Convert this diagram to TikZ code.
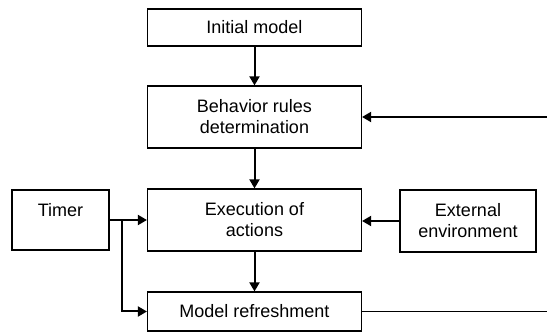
\documentclass[tikz,border=0pt]{standalone}
\usepackage{fontspec}
\setmainfont{Liberation Sans}
\usepackage{tikz}
\usetikzlibrary{arrows.meta, positioning}
\tikzset{
    box/.style={rectangle, draw=black, line width=1.2pt, fill=white, align=center, minimum width=214pt, inner sep=0pt, font=\fontsize{18}{21}\selectfont},
    smallbox/.style={box, minimum width=97pt, minimum height=60pt},
    arrow/.style={-{Triangle[length=9pt, width=10pt]}, line width=2pt},
    line/.style={line width=1.2pt}
}

\begin{document}
\begin{tikzpicture}[x=1pt, y=1pt]
        \useasboundingbox (0,0) rectangle (547,332);

        % Main column
        \node[box, minimum height=37pt] (init) at (254.5,304.5) {Initial model};
        \node[box, minimum height=62pt] (rules) at (254.5,215) {Behavior rules\\determination};
        \node[box, minimum height=62pt] (exec) at (254.5,112) {Execution of\\actions};
        \node[box, minimum height=39pt] (refresh) at (254.5,20.5) {Model refreshment};

        % Side boxes
        \node[smallbox] (timer) at (60.5,112) {Timer\\\mbox{}};
        \node[smallbox, minimum width=136pt, minimum height=62pt] (env) at (468,111) {External\\environment};

        % Free ends at the right edge
        \coordinate (feedin) at (547,215);
        \coordinate (feedout) at (547,20.5);
        \coordinate (split) at (122,112);

        % Connectors
        \draw[arrow] (init) -- (rules);
        \draw[arrow] (rules) -- (exec);
        \draw[arrow] (exec) -- (refresh);
        \draw[arrow] (feedin) -- (rules.east);
        \draw[arrow] (env.west) -- (env.west -| exec.east);
        \draw[arrow] (timer.east) -- (exec.west);
        \draw[arrow] (split) |- (refresh.west);
        \draw[line] (refresh.east) -- (feedout);
    \end{tikzpicture}
\end{document}
